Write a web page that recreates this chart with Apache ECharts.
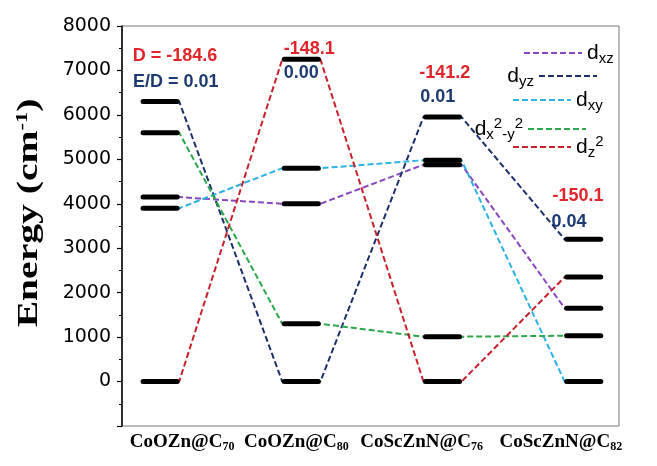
<!DOCTYPE html>
<html><head><meta charset="utf-8">
<script src="https://cdn.jsdelivr.net/npm/echarts@6/dist/echarts.min.js"></script>
<style>html,body{margin:0;padding:0;background:#fff}#c{width:657px;height:466px}</style>
</head><body><div id="c"></div>
<script>
// ---- data ----
const categories = ['CoOZn@C70', 'CoOZn@C80', 'CoScZnN@C76', 'CoScZnN@C82'];
const categorySubs = ['70', '80', '76', '82'];
const orbitalNames = ['dxz', 'dyz', 'dxy', 'dx2-y2', 'dz2'];
const dxz   = [4150, 4000, 4880, 1650];
const dyz   = [6300,    0, 5950, 3200];
const dxy   = [3900, 4800, 4980,    0];
const dx2y2 = [5600, 1300, 1010, 1030];
const dz2   = [   0, 7250,    0, 2350];
const Dvalues  = ['-184.6', '-148.1', '-141.2', '-150.1'];
const EDvalues = ['0.01', '0.00', '0.01', '0.04'];
const yMin = -1000, yMax = 8000, yInterval = 1000;

// ---- styling / layout ----
const orbitalValues = [dxz, dyz, dxy, dx2y2, dz2];
const orbitalColors = ['#8a45c0', '#1c2f6b', '#2bb3e6', '#2aa84a', '#c8202c'];
const H = 0.135; // half length of level bar in x units
const labelShift = [-2, -12, -11, 4]; // px shift of category labels
const annoPos = { // anchor of annotation text (data coords)
  D:  [[1.106, 7326], [2.057, 7483], [3.016, 6944], [3.96, 4180]],
  ED: [[1.11, 6742],  [2.0, 6944],   [2.966, 6404], [3.896, 3596]]
};

const legendRich = {
  sub: { fontSize: 15, lineHeight: 14, verticalAlign: 'bottom', fontFamily: 'Liberation Sans', color: '#000' },
  sup: { fontSize: 15, lineHeight: 14, verticalAlign: 'top', fontFamily: 'Liberation Sans', color: '#000' }
};
const legendText = {
  'dxz': 'd{sub|xz}',
  'dyz': 'd{sub|yz}',
  'dxy': 'd{sub|xy}',
  'dx2-y2': 'd{sub|x}{sup|2}{sub|-y}{sup|2}',
  'dz2': 'd{sub|z}{sup|2}'
};
const legendLayout = [
  { name: 'dxz',    left: 523, top: 40, align: 'left' },
  { name: 'dyz',    right: 59, top: 63, align: 'right' },
  { name: 'dxy',    left: 512, top: 87, align: 'left' },
  { name: 'dx2-y2', right: 70, top: 116, align: 'right' },
  { name: 'dz2',    left: 512, top: 134, align: 'left' }
];

const lineSeries = orbitalNames.map((name, k) => {
  const pts = [];
  orbitalValues[k].forEach((v, c) => { pts.push([c + 1 - H, v]); pts.push([c + 1 + H, v]); });
  return {
    name: name, type: 'line', xAxisIndex: 0, data: pts, symbol: 'none', symbolSize: 0, showSymbol: false,
    lineStyle: { color: orbitalColors[k], width: 2, type: [6, 3] },
    itemStyle: { color: orbitalColors[k] }, z: 2, animation: false
  };
});

const levelData = [];
orbitalValues.forEach(arr => arr.forEach((v, c) => levelData.push([c + 1, v])));
const levelSeries = {
  type: 'custom', xAxisIndex: 0, data: levelData, z: 5, animation: false,
  renderItem: function (params, api) {
    const x = api.value(0), y = api.value(1);
    const p1 = api.coord([x - H, y]), p2 = api.coord([x + H, y]);
    return { type: 'line', shape: { x1: p1[0] + 2, y1: p1[1], x2: p2[0] - 2, y2: p2[1] },
      style: { stroke: '#000', lineWidth: 5, lineCap: 'round' } };
  }
};

const annoData = [];
Dvalues.forEach((t, i) => annoData.push([annoPos.D[i][0], annoPos.D[i][1], (i === 0 ? 'D = ' : '') + t, 0]));
EDvalues.forEach((t, i) => annoData.push([annoPos.ED[i][0], annoPos.ED[i][1], (i === 0 ? 'E/D = ' : '') + t, 1]));
const annoSeries = {
  type: 'custom', xAxisIndex: 0, data: annoData, z: 6, animation: false,
  renderItem: function (params, api) {
    const p = api.coord([api.value(0), api.value(1)]);
    const d = annoData[params.dataIndex];
    return { type: 'text', x: p[0], y: p[1],
      style: { text: d[2], fill: d[3] === 0 ? '#e0262b' : '#1d3b72', align: 'center', verticalAlign: 'middle',
        font: 'bold 18px "Liberation Sans"' } };
  }
};

const labelRich = { s: { fontFamily: 'Liberation Serif', fontWeight: 'bold', fontSize: 12, lineHeight: 12, verticalAlign: 'bottom', color: '#000' } };
labelShift.forEach((s, i) => { labelRich['p' + i] = { width: Math.abs(s) * 2, height: 1 }; });

const option = {
  backgroundColor: '#fff',
  animation: false,
  grid: { left: 122, right: 38, top: 26, bottom: 40, show: true, borderColor: '#777', borderWidth: 1 },
  graphic: [{
    type: 'text', x: 29, y: 213, rotation: Math.PI / 2, scaleX: 1.32, z: 10,
    style: { text: 'Energy (cm{sup|-1})', fill: '#000', align: 'center', verticalAlign: 'middle',
      font: 'bold 30px "Liberation Serif"',
      rich: { sup: { fontFamily: 'Liberation Serif', fontWeight: 'bold', fontSize: 17, lineHeight: 17, verticalAlign: 'top', fill: '#000' } } }
  }],
  legend: legendLayout.map(l => Object.assign({
    data: [l.name], top: l.top, align: l.align, orient: 'horizontal', padding: 0,
    itemWidth: 58, itemHeight: 14, itemGap: 4, selectedMode: false,
    itemStyle: { opacity: 0 },
    formatter: n => legendText[n],
    textStyle: { fontSize: 21, lineHeight: 26, fontFamily: 'Liberation Sans', color: '#000', rich: legendRich }
  }, l.left !== undefined ? { left: l.left } : { right: l.right })),
  xAxis: [
    { type: 'value', min: 0.73, max: 4.25, show: false, position: 'bottom' },
    { type: 'category', data: categories, position: 'bottom', boundaryGap: true,
      axisLine: { show: false }, axisTick: { show: false },
      axisLabel: { margin: 5, interval: 0, color: '#000',
        fontFamily: 'Liberation Serif', fontWeight: 'bold', fontSize: 19, lineHeight: 22,
        formatter: function (v, i) {
          const t = v.replace(categorySubs[i], '') + '{s|' + categorySubs[i] + '}';
          const pad = '{p' + i + '|}';
          return labelShift[i] < 0 ? t + pad : pad + t;
        },
        rich: labelRich } }
  ],
  yAxis: {
    type: 'value', min: yMin, max: yMax, interval: yInterval,
    axisLine: { show: true, lineStyle: { color: '#000', width: 1.5 } },
    axisTick: { show: true, inside: false, length: 5, lineStyle: { color: '#000', width: 1.2 } },
    minorTick: { show: true, splitNumber: 2, length: 3, lineStyle: { color: '#000', width: 1 } },
    splitLine: { show: false },
    axisLabel: { color: '#000', fontFamily: 'DejaVu Sans', fontSize: 19, margin: 11,
      formatter: v => (v < 0 ? '' : String(v)) }
  },
  series: lineSeries.concat([levelSeries, annoSeries])
};
const chart = echarts.init(document.getElementById('c'), null, { renderer: 'canvas' });
chart.setOption(option);
</script></body></html>
